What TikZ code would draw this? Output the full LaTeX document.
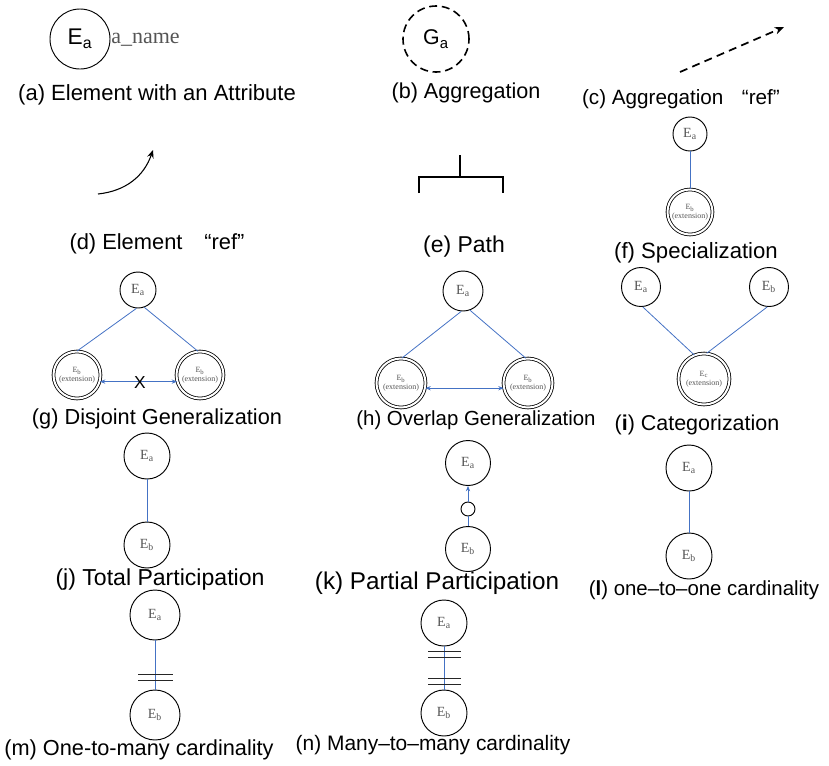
\documentclass[tikz,border=0pt]{standalone}
\usepackage{fontspec}
\setmainfont{Liberation Sans}
\newfontfamily\tnr{Liberation Serif}
\usetikzlibrary{arrows.meta}
\definecolor{linkblue}{HTML}{4472C4}
\definecolor{inkgrey}{HTML}{555555}
% serif element name with a subscript, as used inside the small circles
\newcommand{\elname}[1]{{\tnr\color{inkgrey}E\textsubscript{#1}}}
\begin{document}
\begin{tikzpicture}[x=0.75pt,y=-0.75pt,
  ent/.style={circle,draw,line width=0.7pt,inner sep=0pt,minimum size=#1*1.5pt,
    font=\fontsize{10.5}{11}\selectfont},
  ext/.style={circle,draw,double,double distance=1.5pt,line width=0.6pt,inner sep=0pt,
    minimum size=#1*1.5pt,align=center,font=\tnr\fontsize{6}{6.5}\selectfont,text=inkgrey},
  link/.style={draw=linkblue,line width=0.6pt},
  tip/.style={{Stealth[length=4pt,width=3.2pt]}-{Stealth[length=4pt,width=3.2pt]}},
  uptip/.style={-{Stealth[length=4pt,width=3.2pt]}},
  caption/.style={font=\fontsize{#1}{#1}\selectfont,inner sep=0pt},
  caption/.default=16.4,
  bar/.style={draw=black!85,line width=0.7pt}
]
\useasboundingbox (0,0) rectangle (829,765);

% (a) element with an attribute
\node[ent=30,font=\fontsize{17}{17}\selectfont] (aa) at (80,39) {E\textsubscript{a}};
\node[anchor=west,inner sep=0pt,font=\tnr\fontsize{16.5}{17}\selectfont,text=inkgrey] (aname) at (111,40) {a\_name};
\node[caption=16.5] (capa) at (157,95) {(a) Element with an Attribute};

% (b) aggregation
\node[circle,draw,line width=1.2pt,dash pattern=on 6pt off 3.5pt,inner sep=0pt,
  minimum size=33*1.5pt,font=\fontsize{16}{16}\selectfont] (bg) at (436,39) {G\textsubscript{a}};
\node[caption=16.2] (capb) at (466,93) {(b) Aggregation};

% (c) aggregation reference
\coordinate (c1) at (680,72);
\coordinate (c2) at (784,27);
\draw[line width=1.3pt,dash pattern=on 6pt off 4pt,-{Stealth[length=7pt,width=5.5pt]}] (c1) -- (c2);
\node[caption=15.5] (capc) at (681,99) {(c) Aggregation\hspace{0.9em}“ref”};

% (d) element reference
\coordinate (d1) at (98,194);
\coordinate (d2) at (153,150);
\draw[line width=0.8pt,-{Stealth[length=6pt,width=5pt]}] (d1) .. controls (126,191) and (144,176) .. (d2);
\node[caption] (capd) at (157,244) {(d) Element\hspace{1em}“ref”};

% (e) path
\coordinate (e0) at (460,155);
\coordinate (e1) at (460,177);
\coordinate (e2) at (419,177);
\coordinate (e3) at (503,177);
\coordinate (e4) at (419,193);
\coordinate (e5) at (503,193);
\draw[line width=0.8pt] (e0) -- (e1);
\draw[line width=0.8pt] (e4) -- (e2) -- (e3) -- (e5);
\node[caption=17.2] (cape) at (464,247) {(e) Path};

% (f) specialization
\node[ent=17] (fa) at (690,134) {\elname{a}};
\node[ext=22.5] (fb) at (690,212) {E\textsubscript{b}\\(extension)};
\draw[link] (fa) -- (fb);
\node[caption=16.6] (capf) at (696,253) {(f) Specialization};

% (g) disjoint generalization
\node[ent=18] (ga) at (138,290) {\elname{a}};
\node[ext=23.5] (gb) at (77,375) {E\textsubscript{b}\\(extension)};
\node[ext=23.5] (gc) at (200,375) {E\textsubscript{b}\\(extension)};
\draw[link] (ga.265) -- (gb.north);
\draw[link] (ga.290) -- (gc.95);
\draw[link,tip] (gb.-16) -- (gc.196);
\node[font=\fontsize{13}{13}\selectfont,inner sep=0pt] (gx) at (140,383) {X};
\node[caption=16.3] (capg) at (157,419) {(g) Disjoint Generalization};

% (h) overlap generalization
\node[ent=20] (ha) at (463,291) {\elname{a}};
\node[ext=24.5] (hb) at (401,383) {E\textsubscript{b}\\(extension)};
\node[ext=24.5] (hc) at (528,383) {E\textsubscript{b}\\(extension)};
\draw[link] (ha.265) -- (hb.88);
\draw[link] (ha.290) -- (hc.95);
\draw[link,tip] (hb.-12) -- (hc.192);
\node[caption=15.3] (caph) at (476,420) {(h) Overlap Generalization};

% (i) categorization
\node[ent=19.5] (ia) at (641,287) {\elname{a}};
\node[ent=19.5] (ib) at (769,287) {\elname{b}};
\node[ext=25.5] (ic) at (704,379) {E\textsubscript{c}\\(extension)};
\draw[link] (ia.275) -- (ic.112);
\draw[link] (ib.265) -- (ic.84);
\node[caption=16.1] (capi) at (697,425) {(\textbf{i}) Categorization};

% (j) total participation
\node[ent=23] (ja) at (147,456) {\elname{a}};
\node[ent=23] (jb) at (147,545) {\elname{b}};
\draw[link] (ja) -- (jb);
\node[caption=17.3] (capj) at (160,580) {(j) Total Participation};

% (k) partial participation
\node[ent=22.5] (ka) at (468,463) {\elname{a}};
\node[circle,draw,line width=0.7pt,inner sep=0pt,minimum size=7*1.5pt] (ko) at (468,509) {};
\node[ent=22.5] (kb) at (468,549) {\elname{b}};
\draw[link] (kb) -- (ko);
\draw[link,uptip] (ko) -- (ka);
\node[caption=18.2] (capk) at (437,583) {(k) Partial Participation};

% (l) one-to-one cardinality
\node[ent=23] (la) at (689,468) {\elname{a}};
\node[ent=23] (lb) at (689,556) {\elname{b}};
\draw[link] (la) -- (lb);
\node[caption=15.3] (capl) at (704,590) {(\textbf{l}) one–to–one cardinality};

% (m) one-to-many cardinality
\node[ent=25] (ma) at (155,615) {\elname{a}};
\node[ent=25] (mb) at (155,715) {\elname{b}};
\draw[link] (ma) -- (mb);
\coordinate (m1) at (138,674); \coordinate (m2) at (173,674);
\coordinate (m3) at (138,680); \coordinate (m4) at (173,680);
\draw[bar] (m1) -- (m2);
\draw[bar] (m3) -- (m4);
\node[caption=16.3] (capm) at (139,750) {(m) One-to-many cardinality};

% (n) many-to-many cardinality
\node[ent=23] (na) at (444,623) {\elname{a}};
\node[ent=23] (nb) at (444,713) {\elname{b}};
\draw[link] (na) -- (nb);
\coordinate (n1) at (428,651); \coordinate (n2) at (461,651);
\coordinate (n3) at (428,657); \coordinate (n4) at (461,657);
\coordinate (n5) at (428,678); \coordinate (n6) at (461,678);
\coordinate (n7) at (428,684); \coordinate (n8) at (461,684);
\draw[bar] (n1) -- (n2);
\draw[bar] (n3) -- (n4);
\draw[bar] (n5) -- (n6);
\draw[bar] (n7) -- (n8);
\node[caption=15.7] (capn) at (433,745) {(n) Many–to–many cardinality};
\end{tikzpicture}
\end{document}
